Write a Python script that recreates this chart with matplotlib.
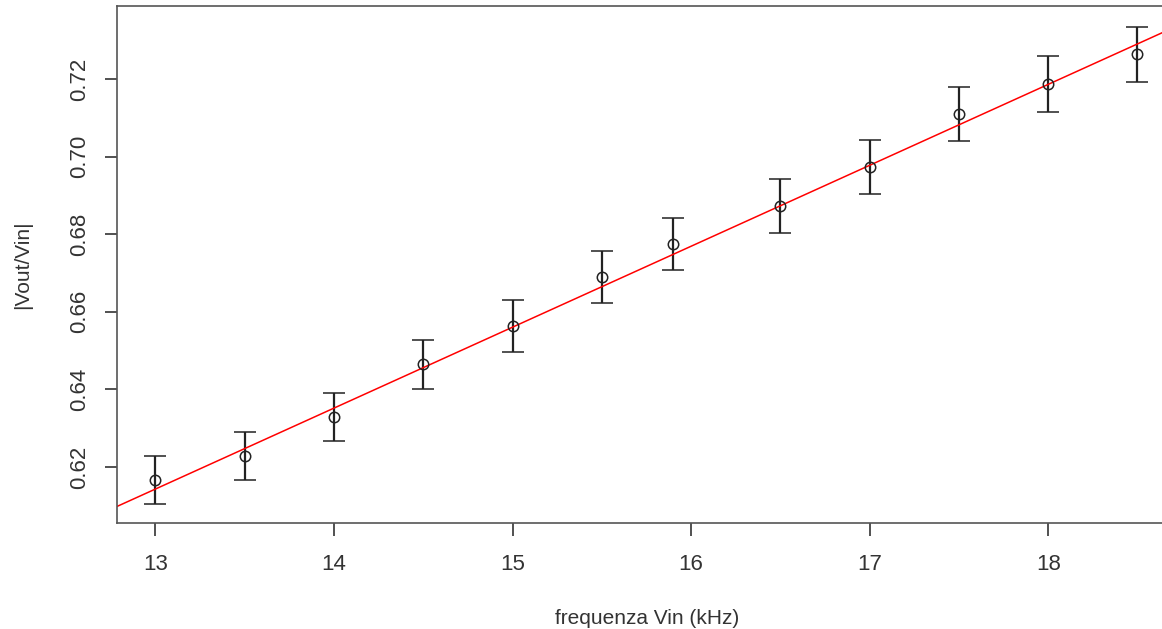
import numpy as np
import matplotlib.pyplot as plt

plt.rcParams['font.family'] = ['Liberation Sans', 'DejaVu Sans']

# Dati
freq = [13.0, 13.5, 14.0, 14.5, 15.0, 15.5, 15.9, 16.5, 17.0, 17.5, 18.0, 18.5]
ratio = [0.6166, 0.6228, 0.6329, 0.6465, 0.6563, 0.6690, 0.6775, 0.6873,
         0.6973, 0.7110, 0.7187, 0.7264]
err = [0.0062, 0.0062, 0.0062, 0.0063, 0.0067, 0.0067, 0.0066, 0.0070,
       0.0070, 0.0070, 0.0071, 0.0071]

# retta di fit
slope = 0.02085
intercept = 0.3433

xticks = [13, 14, 15, 16, 17, 18]
yticks = [0.62, 0.64, 0.66, 0.68, 0.70, 0.72]

fig = plt.figure(figsize=(11.62, 6.29), dpi=100)
ax = fig.add_axes([0.1007, 0.1685, 0.912, 0.822])

ax.errorbar(freq, ratio, yerr=err, fmt='o', mfc='none', mec='#222222', ms=7.5,
            mew=1.1, ecolor='#222222', elinewidth=1.6, capsize=8, capthick=1.6)
ax.axline((0, intercept), slope=slope, color='red', lw=1.1)

ax.set_xlim(12.785, 18.72)
ax.set_ylim(0.6056, 0.7388)
ax.set_xticks(xticks)
ax.set_xticklabels([str(t) for t in xticks])
ax.set_yticks(yticks)
ax.set_yticklabels(['%.2f' % t for t in yticks], rotation=90, va='center')

for s in ax.spines.values():
    s.set_color('#555555')
    s.set_linewidth(1.2)
ax.tick_params(length=9, width=1.2, color='#333333', labelsize=16,
               labelcolor='#333333')
ax.tick_params(axis='x', pad=13)
ax.tick_params(axis='y', pad=10)

ax.set_xlabel('frequenza Vin (kHz)', fontsize=15, color='#333333', labelpad=25)
ax.set_ylabel('|Vout/Vin|', fontsize=15, color='#333333', labelpad=27)

fig.savefig('out.png', dpi=100)
